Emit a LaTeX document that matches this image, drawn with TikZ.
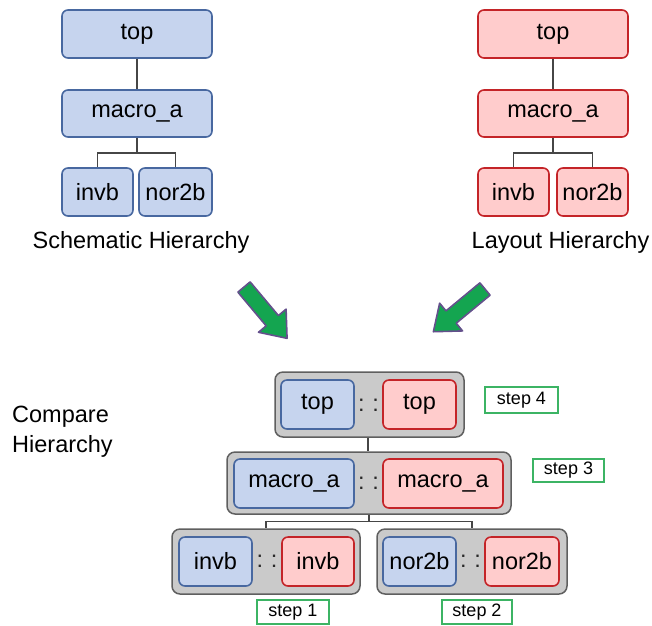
\documentclass[tikz,border=0pt]{standalone}
\usepackage{fontspec}
\setmainfont{Liberation Sans}
\begin{document}
\begin{tikzpicture}[x=1pt,y=-1pt,
  every node/.style={font=\fontsize{23.5}{28}\selectfont, inner sep=0pt},
  bbox/.style={draw=bluedge, fill=bluefill, line width=1.6pt, rounded corners=6pt, minimum height=48pt},
  rbox/.style={draw=rededge, fill=redfill, line width=1.6pt, rounded corners=6pt, minimum height=48pt},
  obox/.style={draw=outedge, fill=outfill, line width=1.5pt, rounded corners=8pt},
  stepbox/.style={draw=stepgreen, fill=white, line width=1.3pt, font=\fontsize{18}{20}\selectfont, minimum height=24pt},
  conn/.style={draw=connc, line width=1.4pt},
  colon/.style={text=colonc},
  garrow/.style={fill=arrowgreen, draw=arrowedge, line width=1.6pt, line join=round}
]
\definecolor{bluefill}{RGB}{198,212,238}
\definecolor{bluedge}{RGB}{72,104,160}
\definecolor{redfill}{RGB}{255,204,204}
\definecolor{rededge}{RGB}{196,36,40}
\definecolor{outfill}{RGB}{202,202,202}
\definecolor{outedge}{RGB}{95,95,95}
\definecolor{stepgreen}{RGB}{60,180,100}
\definecolor{connc}{RGB}{70,70,70}
\definecolor{colonc}{RGB}{40,40,40}
\definecolor{arrowgreen}{RGB}{20,165,80}
\definecolor{arrowedge}{RGB}{100,80,140}
\useasboundingbox (0,0) rectangle (652,625);

% Schematic hierarchy
\node[bbox, minimum width=150pt] (sTop) at (137,34) {top};
\node[bbox, minimum width=150pt, minimum height=47pt] (sMacro) at (137,113.5) {macro\_a};
\node[bbox, minimum width=71pt] (sInvb) at (97.5,192) {invb};
\node[bbox, minimum width=73pt] (sNor) at (175.5,192) {nor2b};
\draw[conn] (sTop) -- (sMacro);
\draw[conn] (sMacro.south) -- ++(0,15) coordinate (sJ);
\draw[conn] (sJ) -| (sInvb.north);
\draw[conn] (sJ) -| (sNor.north);
\node (sLabel) at (141,242) {Schematic Hierarchy};

% Layout hierarchy
\node[rbox, minimum width=150pt] (lTop) at (553,34) {top};
\node[rbox, minimum width=150pt, minimum height=47pt] (lMacro) at (553,113.5) {macro\_a};
\node[rbox, minimum width=71pt] (lInvb) at (513.5,192) {invb};
\node[rbox, minimum width=71pt] (lNor) at (592.5,192) {nor2b};
\draw[conn] (lTop) -- (lMacro);
\draw[conn] (lMacro.south) -- ++(0,15) coordinate (lJ);
\draw[conn] (lJ) -| (lInvb.north);
\draw[conn] (lJ) -| (lNor.north);
\node (lLabel) at (560.5,242) {Layout Hierarchy};

% Green arrows
\begin{scope}[shift={(244,287)}, rotate=-50]
  \draw[garrow] (0,-8) -- (44,-8) -- (44,-18) -- (67,0) -- (44,18) -- (44,8) -- (0,8) -- cycle;
\end{scope}
\begin{scope}[shift={(485,289)}, rotate=219.6]
  \draw[garrow] (0,-8) -- (44,-8) -- (44,-18) -- (67,0) -- (44,18) -- (44,8) -- (0,8) -- cycle;
\end{scope}

% Compare hierarchy
\node[align=left, anchor=west, font=\fontsize{23.5}{30}\selectfont] (cLabel) at (12,432) {Compare\\Hierarchy};

\node[obox, minimum width=189pt, minimum height=65pt] (cTopO) at (369.5,404.5) {};
\node[bbox, minimum width=73pt, minimum height=49pt] (cTopB) at (317.5,404.5) {top};
\node[rbox, minimum width=73pt, minimum height=49pt] (cTopR) at (419.5,404.5) {top};
\node[colon] (cTopC) at (368.5,405) {:\,\,:};
\node[stepbox, minimum width=73pt, minimum height=26pt] (step4) at (521.5,400) {step 4};

\node[obox, minimum width=284pt, minimum height=62pt] (cMacO) at (369,483) {};
\node[bbox, minimum width=120pt, minimum height=49pt] (cMacB) at (294,483.5) {macro\_a};
\node[rbox, minimum width=120pt, minimum height=49pt] (cMacR) at (443,483.5) {macro\_a};
\node[colon] (cMacC) at (368.5,483) {:\,\,:};
\node[stepbox, minimum width=71pt, minimum height=23pt] (step3) at (568.5,470.5) {step 3};

\node[obox, minimum width=188pt, minimum height=65pt] (cInvO) at (266,561.5) {};
\node[bbox, minimum width=73pt, minimum height=49pt] (cInvB) at (215.5,561.5) {invb};
\node[rbox, minimum width=72pt, minimum height=49pt] (cInvR) at (318,561.5) {invb};
\node[colon] (cInvC) at (267,561) {:\,\,:};
\node[stepbox, minimum width=72pt] (step1) at (293,612) {step 1};

\node[obox, minimum width=190pt, minimum height=65pt] (cNorO) at (472,561.5) {};
\node[bbox, minimum width=73pt, minimum height=49pt] (cNorB) at (419.5,561.5) {nor2b};
\node[rbox, minimum width=74pt, minimum height=49pt] (cNorR) at (522,561.5) {nor2b};
\node[colon] (cNorC) at (470.5,561) {:\,\,:};
\node[stepbox, minimum width=70pt] (step2) at (477,612) {step 2};

\draw[conn] (cTopO.south -| 368,0) -- (368,0 |- cMacO.north);
\draw[conn] (cMacO.south) -- ++(0,7) coordinate (cJ);
\draw[conn] (cJ) -| (cInvO.north);
\draw[conn] (cJ) -| (cNorO.north);
\end{tikzpicture}
\end{document}
